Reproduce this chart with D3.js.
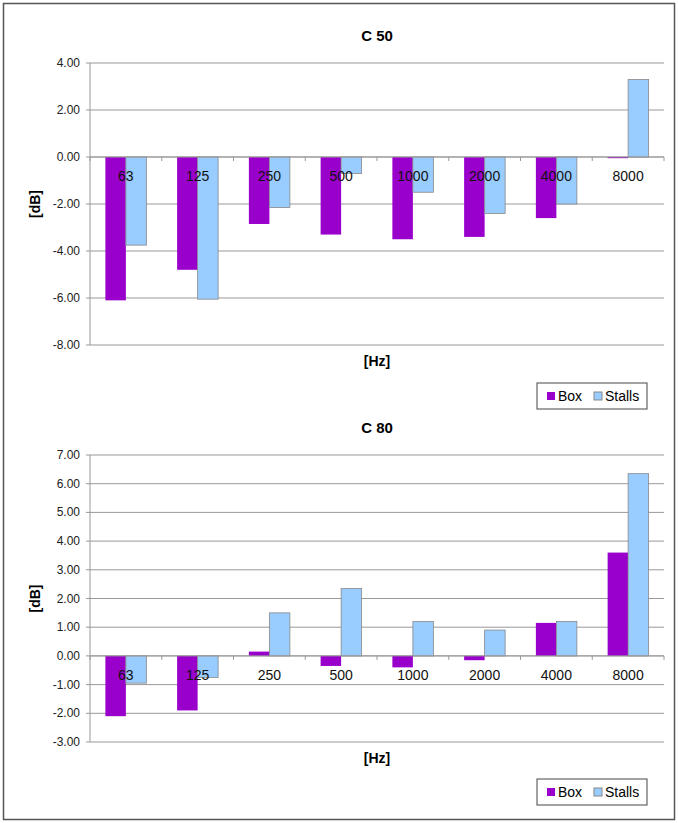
<!DOCTYPE html>
<html><head><meta charset="utf-8">
<script src="https://cdn.jsdelivr.net/npm/d3@7"></script>
<style>body{margin:0;background:#fff;font-family:Arial,"Liberation Sans",sans-serif}</style>
</head><body>
<script>
var categories = ["63","125","250","500","1000","2000","4000","8000"];
var seriesNames = ["Box","Stalls"];
var c50Box = [-6.1,-4.8,-2.85,-3.3,-3.5,-3.4,-2.6,-0.05];
var c50Stalls = [-3.75,-6.05,-2.15,-0.7,-1.5,-2.4,-2.0,3.3];
var c80Box = [-2.1,-1.9,0.15,-0.35,-0.4,-0.15,1.15,3.6];
var c80Stalls = [-0.95,-0.75,1.5,2.35,1.2,0.9,1.2,6.35];
var colors = ["#9900cc","#99ccff"];

var svg = d3.select("body").append("svg").attr("width",678).attr("height",823);
svg.append("rect").attr("x",3.5).attr("y",3.5).attr("width",671).attr("height",816)
  .attr("fill","none").attr("stroke","#555").attr("stroke-width",1.5);

function plotChart(top, bottom, dom, step, title, box, stalls, legendY) {
  var left = 90, right = 664;
  var x = d3.scaleBand().domain(categories).range([left,right]);
  var y = d3.scaleLinear().domain(dom).range([bottom,top]);
  var g = svg.append("g");
  var ticks = d3.range(dom[0], dom[1]+0.001, step);
  g.selectAll(".grid").data(ticks).enter().append("line")
    .attr("x1",left).attr("x2",right).attr("y1",d=>y(d)).attr("y2",d=>y(d))
    .attr("stroke","#999").attr("stroke-width",1);
  g.append("line").attr("x1",left).attr("x2",left).attr("y1",top).attr("y2",bottom).attr("stroke","#999");
  g.selectAll(".yl").data(ticks).enter().append("text")
    .attr("x",80).attr("y",d=>y(d)+4).attr("text-anchor","end")
    .attr("font-size",12).attr("fill","#222").text(d=>d.toFixed(2));
  g.selectAll(".yt").data(ticks).enter().append("line")
    .attr("x1",left-4).attr("x2",left).attr("y1",d=>y(d)).attr("y2",d=>y(d)).attr("stroke","#999");
  var bw = 20.5, off = x.bandwidth()/2 - bw;
  [box, stalls].forEach(function(vals, s) {
    g.selectAll(".b"+s).data(vals).enter().append("rect")
      .attr("x",(d,i)=>x(categories[i])+off+s*bw)
      .attr("width",bw)
      .attr("y",d=>y(Math.max(0,d)))
      .attr("height",d=>Math.abs(y(d)-y(0)))
      .attr("fill",colors[s])
      .attr("stroke",s ? "#888" : "none").attr("stroke-width",0.8);
  });
  // zero axis with category ticks
  g.append("line").attr("x1",left).attr("x2",right).attr("y1",y(0)).attr("y2",y(0)).attr("stroke","#999");
  g.selectAll(".ct").data(categories.concat([null])).enter().append("line")
    .attr("x1",(d,i)=>left+i*x.bandwidth()).attr("x2",(d,i)=>left+i*x.bandwidth())
    .attr("y1",y(0)).attr("y2",y(0)+4).attr("stroke","#999");
  g.selectAll(".cl").data(categories).enter().append("text")
    .attr("x",d=>x(d)+x.bandwidth()/2).attr("y",y(0)+24).attr("text-anchor","middle")
    .attr("font-size",14).attr("fill","#111").text(d=>d);
  g.append("text").attr("x",377).attr("y",top-22).attr("text-anchor","middle")
    .attr("font-size",15).attr("font-weight","bold").text(title);
  g.append("text").attr("transform","translate(40,"+((top+bottom)/2)+") rotate(-90)")
    .attr("text-anchor","middle").attr("font-size",14).attr("font-weight","bold").text("[dB]");
  g.append("text").attr("x",377).attr("y",bottom+21).attr("text-anchor","middle")
    .attr("font-size",14).attr("font-weight","bold").text("[Hz]");
  var lg = g.append("g").attr("transform","translate(537,"+legendY+")");
  lg.append("rect").attr("width",110).attr("height",26).attr("fill","#fff").attr("stroke","#444");
  seriesNames.forEach(function(n, s) {
    var lx = 10 + s*47;
    lg.append("rect").attr("x",lx).attr("y",9).attr("width",8).attr("height",8)
      .attr("fill",colors[s]).attr("stroke",s ? "#888" : "none");
    lg.append("text").attr("x",lx+11).attr("y",18).attr("font-size",14).text(n);
  });
}

plotChart(63, 345, [-8,4], 2, "C 50", c50Box, c50Stalls, 383);
plotChart(455, 742, [-3,7], 1, "C 80", c80Box, c80Stalls, 779);
</script>
</body></html>
